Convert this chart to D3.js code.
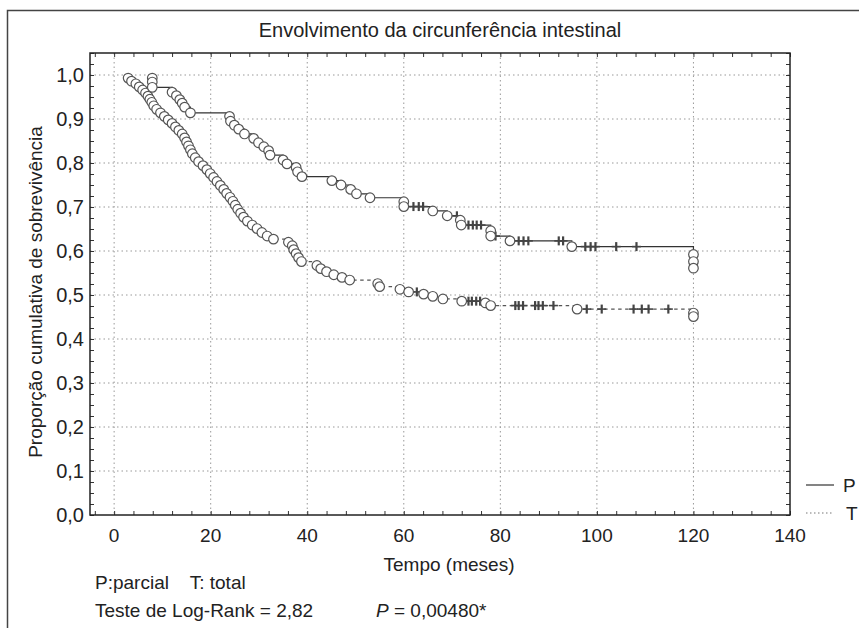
<!DOCTYPE html>
<html>
<head>
<meta charset="utf-8">
<script src="https://cdn.jsdelivr.net/npm/d3@7"></script>
<style>
  html, body { margin: 0; padding: 0; background: #fff; }
  svg text { font-family: "Liberation Sans", Arial, sans-serif; fill: #222; }
</style>
</head>
<body>
<svg id="chart" width="859" height="628"></svg>
<script>
// Kaplan-Meier estimates: event times (months) and survival after each event
const pEventTimes = [7.9, 7.9, 7.9, 12.0, 12.9, 13.6, 14.1, 14.6, 15.8,
  23.9, 24.1, 24.9, 25.8, 27.0, 28.9, 29.9, 31.0, 32.0, 32.3,
  35.0, 35.8, 37.7, 38.0, 38.9, 45.1, 47.0, 49.0, 50.2, 53.0,
  60.0, 60.0, 66.0, 69.0, 71.7, 71.9, 78.0, 78.0, 82.0, 94.8,
  120, 120, 120];
const pSurvival = [0.993, 0.984, 0.972, 0.961, 0.953, 0.944, 0.936, 0.927, 0.914,
  0.906, 0.895, 0.886, 0.877, 0.866, 0.856, 0.846, 0.837, 0.828, 0.818,
  0.807, 0.798, 0.790, 0.780, 0.769, 0.760, 0.750, 0.740, 0.730, 0.721,
  0.712, 0.701, 0.691, 0.680, 0.670, 0.659, 0.646, 0.634, 0.623, 0.610,
  0.592, 0.576, 0.561];
const pCensored = [62.0, 63.1, 64.0, 71.0, 73.4, 74.3, 75.1, 76.0, 79.0,
  83.8, 84.8, 85.8, 92.1, 93.0, 97.6, 98.7, 99.7, 104.0, 108.2];

const tEventTimes = [2.9, 3.6, 4.5, 5.2, 5.9, 6.5, 7.0, 7.4, 7.8, 8.2, 8.8, 9.6,
  10.4, 11.2, 12.0, 12.7, 13.4, 14.1, 14.6, 15.0, 15.4, 15.8, 16.2, 16.8,
  17.5, 18.4, 19.2, 19.9, 20.6, 21.3, 22.0, 22.7, 23.3, 24.0, 24.6, 25.1,
  25.6, 26.2, 26.8, 27.6, 28.6, 29.6, 30.6, 31.7, 33.0, 36.1, 36.9, 37.2,
  37.7, 38.2, 38.8, 42.0, 42.8, 44.0, 45.5, 47.2, 48.8, 54.6, 55.0, 59.2,
  61.0, 64.1, 66.0, 68.1, 72.0, 76.9, 78.0, 95.9, 120, 120];
const tSurvival = [0.993, 0.986, 0.980, 0.973, 0.966, 0.959, 0.952, 0.945, 0.938,
  0.930, 0.922, 0.914, 0.906, 0.898, 0.890, 0.882, 0.874, 0.866, 0.857, 0.848,
  0.839, 0.830, 0.821, 0.812, 0.803, 0.794, 0.785, 0.776, 0.767, 0.758, 0.749,
  0.740, 0.731, 0.722, 0.713, 0.704, 0.695, 0.686, 0.677, 0.668, 0.659, 0.651,
  0.642, 0.634, 0.627, 0.620, 0.612, 0.603, 0.594, 0.585, 0.576, 0.567, 0.560,
  0.553, 0.546, 0.540, 0.534, 0.526, 0.519, 0.513, 0.507, 0.502, 0.497, 0.491,
  0.486, 0.482, 0.476, 0.468, 0.459, 0.451];
const tCensored = [62.7, 73.4, 74.1, 75.0, 75.8, 83.1, 83.8, 84.7, 87.2, 87.9,
  88.8, 91.0, 97.9, 101.0, 107.6, 109.3, 110.7, 114.8];

const xTicks = [0, 20, 40, 60, 80, 100, 120, 140];
const yTicks = [0, 0.1, 0.2, 0.3, 0.4, 0.5, 0.6, 0.7, 0.8, 0.9, 1.0];
const legendNames = ["P", "T"];

const svg = d3.select("#chart");
const plot = { left: 90, right: 790, top: 53, bottom: 515 };

const x = d3.scaleLinear().domain([-5, 140]).range([plot.left, plot.right]);
const y = d3.scaleLinear().domain([0, 1.05]).range([plot.bottom, plot.top]);
const fmt = v => d3.format(".1f")(v).replace(".", ",");

// outer frame
svg.append("path")
  .attr("d", `M7.5,628 V10.5 H859`)
  .attr("fill", "none").attr("stroke", "#444").attr("stroke-width", 1.5);

// title
svg.append("text").attr("x", 440).attr("y", 37).attr("text-anchor", "middle")
  .attr("font-size", 20).text("Envolvimento da circunferência intestinal");

// grid
const grid = svg.append("g").attr("stroke", "#999").attr("stroke-width", 1)
  .attr("stroke-dasharray", "1.5,3");
grid.selectAll("line.gx").data(xTicks.filter(d => d > -5 && d < 140)).join("line")
  .attr("x1", d => x(d)).attr("x2", d => x(d)).attr("y1", plot.top).attr("y2", plot.bottom);
grid.selectAll("line.gy").data(yTicks.filter(d => d > 0)).join("line")
  .attr("y1", d => y(d)).attr("y2", d => y(d)).attr("x1", plot.left).attr("x2", plot.right);

// axes with inward ticks (minor every 4 months / 0.025)
const xMinor = d3.range(-4, 141, 4);
const yMinor = d3.range(0, 1.051, 0.025);
svg.append("g").attr("transform", `translate(0,${plot.bottom})`)
  .call(d3.axisBottom(x).tickValues(xMinor).tickSize(-4).tickFormat(""))
  .call(g => g.select(".domain").remove());
svg.append("g").attr("transform", `translate(0,${plot.top})`)
  .call(d3.axisTop(x).tickValues(xMinor).tickSize(-4).tickFormat(""))
  .call(g => g.select(".domain").remove());
svg.append("g").attr("transform", `translate(${plot.left},0)`)
  .call(d3.axisLeft(y).tickValues(yMinor).tickSize(-4).tickFormat(""))
  .call(g => g.select(".domain").remove());
svg.append("g").attr("transform", `translate(${plot.right},0)`)
  .call(d3.axisRight(y).tickValues(yMinor).tickSize(-4).tickFormat(""))
  .call(g => g.select(".domain").remove());
svg.selectAll(".tick line").attr("stroke", "#333");

svg.append("rect").attr("x", plot.left).attr("y", plot.top)
  .attr("width", plot.right - plot.left).attr("height", plot.bottom - plot.top)
  .attr("fill", "none").attr("stroke", "#222").attr("stroke-width", 1.5);

// tick labels
svg.append("g").selectAll("text").data(xTicks).join("text")
  .attr("x", d => x(d)).attr("y", plot.bottom + 27).attr("text-anchor", "middle")
  .attr("font-size", 19).text(d => d);
svg.append("g").selectAll("text").data(yTicks).join("text")
  .attr("x", plot.left - 6).attr("y", d => y(d) + 7).attr("text-anchor", "end")
  .attr("font-size", 20).text(fmt);

// axis titles
svg.append("text").attr("x", 449).attr("y", 571).attr("text-anchor", "middle")
  .attr("font-size", 19).text("Tempo (meses)");
svg.append("text").attr("transform", `translate(42,${(plot.top + plot.bottom) / 2 + 8}) rotate(-90)`)
  .attr("text-anchor", "middle").attr("font-size", 19)
  .text("Proporção cumulativa de sobrevivência");

// survival curves
function curvePoints(times, surv) {
  const pts = times.map((t, i) => [t, surv[i]]);
  pts.push([120, surv[surv.length - 1]]);
  return pts;
}
function survAt(times, surv, t) {
  let s = 1;
  times.forEach((tt, i) => { if (tt <= t) s = surv[i]; });
  return s;
}
const line = d3.line().x(d => x(d[0])).y(d => y(d[1])).curve(d3.curveStepAfter);

const series = [
  { name: "T", times: tEventTimes, surv: tSurvival, cens: tCensored, dash: "3.5,3.5", color: "#555" },
  { name: "P", times: pEventTimes, surv: pSurvival, cens: pCensored, dash: null, color: "#333" }
];

series.forEach(s => {
  svg.append("path").datum(curvePoints(s.times, s.surv))
    .attr("d", line).attr("fill", "none").attr("stroke", s.color)
    .attr("stroke-width", 1.2).attr("stroke-dasharray", s.dash);
  const cross = svg.append("g").attr("stroke", "#444");
  s.cens.forEach(t => {
    const cx = x(t), cy = y(survAt(s.times, s.surv, t));
    cross.append("line").attr("x1", cx).attr("x2", cx).attr("y1", cy - 4.5).attr("y2", cy + 4.5)
      .attr("stroke-width", 2.2);
    cross.append("line").attr("x1", cx - 4.5).attr("x2", cx + 4.5).attr("y1", cy).attr("y2", cy)
      .attr("stroke-width", 1.6);
  });
  svg.append("g").selectAll("circle").data(s.times.map((t, i) => [t, s.surv[i]])).join("circle")
    .attr("cx", d => x(d[0])).attr("cy", d => y(d[1])).attr("r", 4.8)
    .attr("fill", "#fff").attr("stroke", "#555").attr("stroke-width", 1.2);
});

// legend
const legend = svg.append("g");
legendNames.forEach((n, i) => {
  const ly = 485 + i * 28;
  legend.append("line").attr("x1", 806).attr("x2", 834).attr("y1", ly).attr("y2", ly)
    .attr("stroke", i === 0 ? "#333" : "#777").attr("stroke-width", 1.2)
    .attr("stroke-dasharray", i === 0 ? null : "1.5,2.5");
  legend.append("text").attr("x", i === 0 ? 843 : 846).attr("y", ly + 7)
    .attr("font-size", 19).text(n);
});

// footnotes
svg.append("text").attr("x", 95).attr("y", 589).attr("font-size", 19)
  .style("white-space", "pre").text("P:parcial    T: total");
svg.append("text").attr("x", 95).attr("y", 617).attr("font-size", 19).text("Teste de Log-Rank = 2,82");
const pv = svg.append("text").attr("x", 376).attr("y", 617).attr("font-size", 19);
pv.append("tspan").attr("font-style", "italic").text("P");
pv.append("tspan").text(" = 0,00480*");
</script>
</body>
</html>
